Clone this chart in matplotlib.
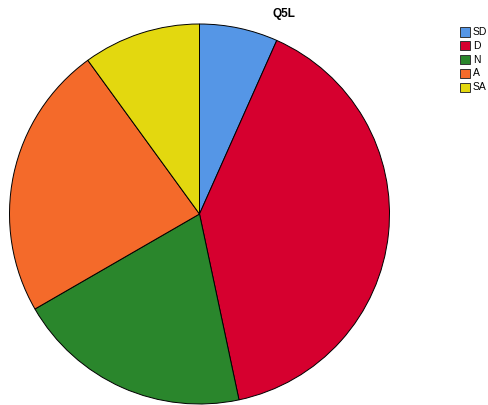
import matplotlib
matplotlib.use("Agg")
import matplotlib.pyplot as plt
from matplotlib.patches import Rectangle

categorias = ["SD", "D", "N", "A", "SA"]
conteos = [2, 12, 6, 7, 3]
colores = ["#5596e6", "#d6002f", "#2a862c", "#f46a2a", "#e3d80f"]
titulo = "Q5L"

plt.rcParams["font.family"] = ["Liberation Sans", "DejaVu Sans"]

W, H = 489, 405
fig = plt.figure(figsize=(W / 100, H / 100), dpi=100)

# pie: center (199.5, 214) px, radius 190 px
cx, cy, r = 199.5, 214, 190
ax = fig.add_axes([(cx - r) / W, (H - cy - r) / H, 2 * r / W, 2 * r / H])
ax.pie(conteos, colors=colores, startangle=90, counterclock=False,
       wedgeprops=dict(edgecolor="black", linewidth=0.7))
ax.set_xlim(-1, 1)
ax.set_ylim(-1, 1)
ax.set_aspect("equal")
ax.axis("off")

fig.text(284 / W, 1 - 14 / H, titulo, ha="center", va="center",
         fontsize=8.5, fontweight="bold")

# legend
for i, (lab, col) in enumerate(zip(categorias, colores)):
    y = 32 + i * 13.8
    fig.patches.append(Rectangle((460 / W, (H - y - 4.5) / H), 10 / W, 9 / H,
                                 transform=fig.transFigure, facecolor=col,
                                 edgecolor="#333333", linewidth=0.7))
    fig.text(473 / W, 1 - y / H, lab, ha="left", va="center", fontsize=7.5)

fig.savefig("out.png", dpi=100)
